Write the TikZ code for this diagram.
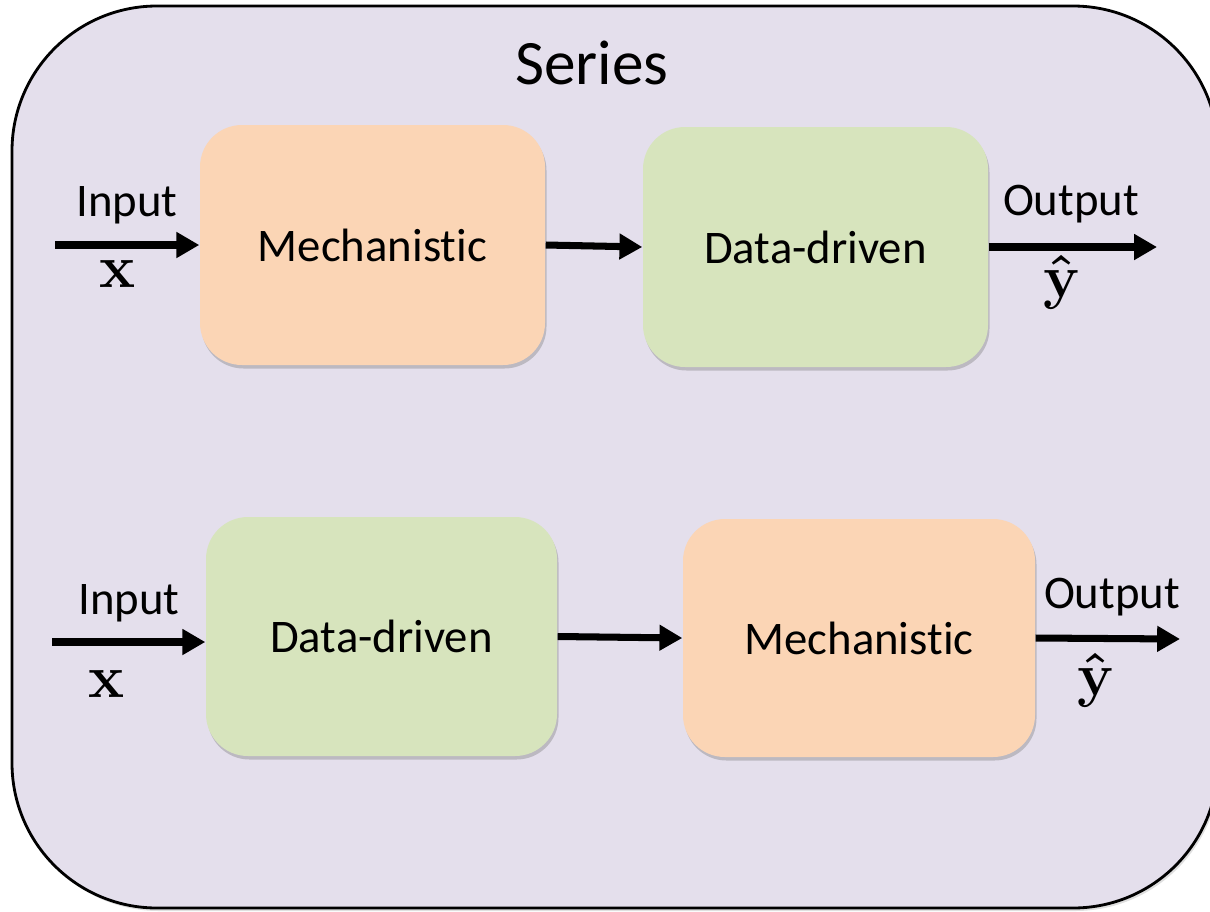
\documentclass[tikz,border=0pt]{standalone}
\usepackage{amsmath,amssymb}
\usepackage{bm}
\usepackage[no-math]{fontspec}
\setmainfont{Carlito}[Ligatures={NoCommon,NoContextual}]
\usepackage{tikz}
\usetikzlibrary{calc,arrows.meta,positioning,shadows}

\definecolor{framebg}{HTML}{E4DFEC}
\definecolor{mechfill}{HTML}{FBD5B5}
\definecolor{datafill}{HTML}{D7E4BD}

\begin{document}
\begin{tikzpicture}[
    block/.style={rounded corners=0.42cm, inner sep=0pt, minimum width=3.45cm,
      minimum height=2.4cm, font=\fontsize{13.3}{16}\selectfont,
      drop shadow={shadow xshift=0.015cm, shadow yshift=-0.035cm,
        opacity=0.35, fill=black!55}},
    mech_block/.style={block, fill=mechfill},
    data_block/.style={block, fill=datafill},
    flow/.style={line width=2pt, -{Triangle[length=6.5pt, width=7pt]}},
    io_label/.style={font=\fontsize{13.3}{16}\selectfont, inner sep=0pt},
    sym_label/.style={font=\fontsize{16.5}{19}\selectfont, inner sep=0pt}
  ]
  \useasboundingbox (0, 0) rectangle (12.10, 9.11);
  \clip (0, 0) rectangle (12.10, 9.11);

  % --- Outer frame ---
  \draw[fill=framebg, line width=0.8pt, rounded corners=1.45cm,
    drop shadow={shadow xshift=0.02cm, shadow yshift=-0.03cm, opacity=0.25, fill=black!50}]
    (0.12, 0.03) rectangle (12.18, 9.05);
  \node[font=\fontsize{18}{22}\selectfont] (title) at (5.92, 8.48) {Series};

  % --- Top row ---
  \node[mech_block] (mechA) at (3.725, 6.66) {Mechanistic};
  \node[data_block] (dataA) at (8.155, 6.64) {Data-driven};
  \coordinate (inA) at (0.55, 6.66);
  \coordinate (outA) at (11.57, 6.64);

  % --- Bottom row ---
  \node[data_block, minimum width=3.51cm, minimum height=2.39cm] (dataB) at (3.815, 2.745) {Data-driven};
  \node[mech_block, minimum width=3.52cm, minimum height=2.38cm] (mechB) at (8.59, 2.73) {Mechanistic};
  \coordinate (inB) at (0.52, 2.69);
  \coordinate (outB) at (11.80, 2.72);

  % --- Arrows ---
  \draw[flow] (inA) -- (mechA.west);
  \draw[flow] (mechA.east) -- (dataA.west);
  \draw[flow] (dataA.east) -- (outA);
  \draw[flow] (inB) -- (inB -| dataB.west);
  \draw[flow] (dataB.east) -- (mechB.west);
  \draw[flow] (mechB.east) -- (outB);

  % --- Labels ---
  \node[io_label] (inAtxt) at (1.27, 7.06) {Input};
  \node[sym_label] (inAsym) at (1.18, 6.37) {$\bm{\mathrm{x}}$};
  \node[io_label] (outAtxt) at (10.71, 7.07) {Output};
  \node[sym_label] (outAsym) at (10.62, 6.29) {$\bm{\hat{\mathrm{y}}}$};
  \node[io_label] (inBtxt) at (1.29, 3.08) {Input};
  \node[sym_label] (inBsym) at (1.07, 2.27) {$\bm{\mathrm{x}}$};
  \node[io_label] (outBtxt) at (11.12, 3.14) {Output};
  \node[sym_label] (outBsym) at (10.96, 2.31) {$\bm{\hat{\mathrm{y}}}$};
\end{tikzpicture}
\end{document}
